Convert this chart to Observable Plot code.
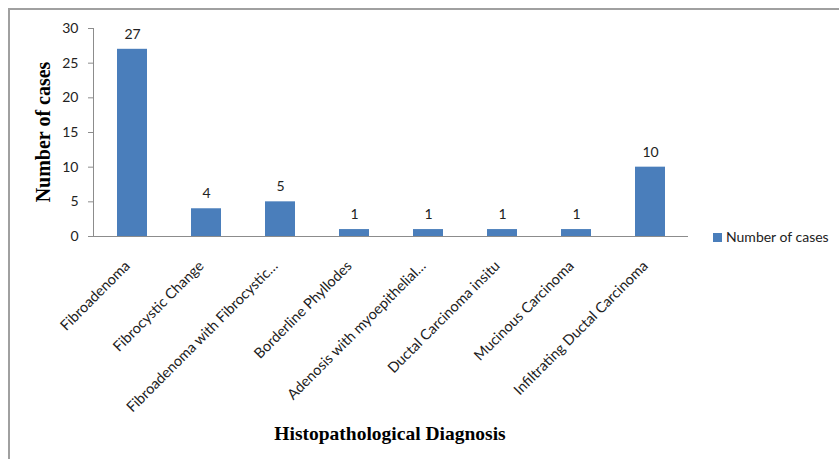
<!DOCTYPE html>
<html>
<head>
<meta charset="utf-8">
<script src="https://cdn.jsdelivr.net/npm/d3@7"></script>
<script src="https://cdn.jsdelivr.net/npm/@observablehq/plot@0.6"></script>
<style>
  html, body { margin: 0; padding: 0; background: #fff; }
  #chart { width: 839px; height: 459px; }
</style>
</head>
<body>
<div id="chart"></div>
<script>
const categories = [
  "Fibroadenoma",
  "Fibrocystic Change",
  "Fibroadenoma with Fibrocystic…",
  "Borderline Phyllodes",
  "Adenosis with myoepithelial…",
  "Ductal Carcinoma insitu",
  "Mucinous Carcinoma",
  "Infiltrating Ductal Carcinoma"
];
const values = [27, 4, 5, 1, 1, 1, 1, 10];
const yTicks = [0, 5, 10, 15, 20, 25, 30];
const seriesName = "Number of cases";
const xTitle = "Histopathological Diagnosis";
const yTitle = "Number of cases";

const data = categories.map((c, i) => ({category: c, value: values[i]}));
const font = "Lato, 'Open Sans', sans-serif";
const barColor = "#4a7ebb";
const axisColor = "#8c8c8c";

const svg = Plot.plot({
  width: 839,
  height: 459,
  marginLeft: 93,
  marginRight: 151,
  marginTop: 28,
  marginBottom: 223,
  style: {fontFamily: font, fontSize: "14px", color: "#222", background: "#fff"},
  x: {domain: categories, paddingInner: 0.6, paddingOuter: 0.3, label: null},
  y: {domain: [0, 30], label: null},
  marks: [
    Plot.barY(data, {x: "category", y: "value", fill: barColor}),
    Plot.ruleY([0], {stroke: axisColor, strokeWidth: 1}),
    Plot.frame({anchor: "left", stroke: axisColor}),
    Plot.axisY({ticks: yTicks, tickSize: 5, tickPadding: 10, stroke: axisColor, fontSize: 14, fill: "#222"}),
    Plot.axisX({tickSize: 0, tickRotate: -45, tickPadding: 25, dx: -5, dy: 2, fontSize: 14.5, fill: "#222"}),
    Plot.text(data, {x: "category", y: "value", text: d => String(d.value), dy: -15, fontSize: 14, fill: "#222"})
  ]
});

document.getElementById("chart").appendChild(svg);

const s = d3.select(svg);
// outer border (top and left visible)
s.append("line").attr("x1", 8).attr("x2", 839).attr("y1", 9).attr("y2", 9)
  .attr("stroke", "#a0a0a0").attr("stroke-width", 2);
s.append("line").attr("x1", 9).attr("x2", 9).attr("y1", 8).attr("y2", 459)
  .attr("stroke", "#a0a0a0").attr("stroke-width", 2);

// y-axis title
s.append("text")
  .attr("transform", "translate(50,132) rotate(-90)")
  .attr("text-anchor", "middle")
  .attr("font-family", "'Liberation Serif', 'Times New Roman', serif")
  .attr("font-weight", "bold")
  .attr("font-size", 20)
  .attr("fill", "#000")
  .text(yTitle);

// x-axis title
s.append("text")
  .attr("x", 390).attr("y", 440)
  .attr("text-anchor", "middle")
  .attr("font-family", "'Liberation Serif', 'Times New Roman', serif")
  .attr("font-weight", "bold")
  .attr("font-size", 19.5)
  .attr("fill", "#000")
  .text(xTitle);

// legend
s.append("rect").attr("x", 713).attr("y", 233).attr("width", 9).attr("height", 9).attr("fill", barColor);
s.append("text").attr("x", 726).attr("y", 242)
  .attr("text-anchor", "start")
  .attr("font-family", font).attr("font-size", 14).attr("fill", "#222")
  .text(seriesName);
</script>
</body>
</html>
